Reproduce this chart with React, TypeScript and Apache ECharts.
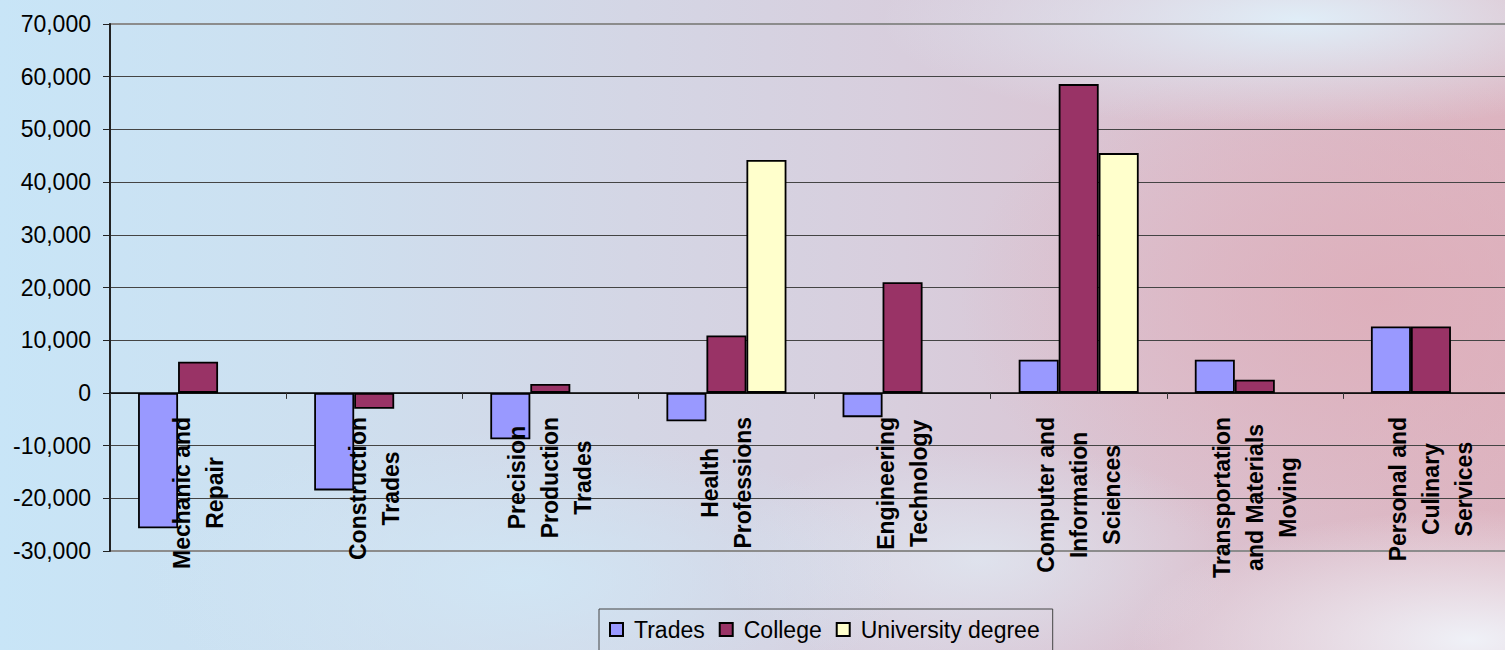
import React, { useEffect, useRef } from "react";
import * as echarts from "echarts";

const categories = [
  "Mechanic and\nRepair",
  "Construction\nTrades",
  "Precision\nProduction\nTrades",
  "Health\nProfessions",
  "Engineering\nTechnology",
  "Computer and\nInformation\nSciences",
  "Transportation\nand Materials\nMoving",
  "Personal and\nCulinary\nServices",
];
const trades = [-25700, -18500, -8800, -5400, -4600, 6300, 6300, 12600];
const college = [5900, -3000, 1700, 10900, 21000, 58600, 2500, 12600];
const university: (number | string)[] = ["-", "-", "-", 44200, "-", 45500, "-", "-"];
const seriesNames = ["Trades", "College", "University degree"];
const seriesColors = ["#9999FF", "#993366", "#FFFFCC"];
const Y_MIN = -30000;
const Y_MAX = 70000;
const Y_STEP = 10000;

const FONT = "'Liberation Sans', Arial, sans-serif";

const bg = [
  "radial-gradient(ellipse 420px 110px at 1300px 20px, rgba(224,240,250,0.95), rgba(224,240,250,0) 100%)",
  "radial-gradient(ellipse 340px 130px at 1470px 640px, rgba(240,244,250,0.95), rgba(240,244,250,0) 100%)",
  "radial-gradient(ellipse 380px 150px at 520px 580px, rgba(208,231,246,0.85), rgba(208,231,246,0) 100%)",
  "radial-gradient(ellipse 260px 120px at 980px 560px, rgba(225,236,245,0.7), rgba(225,236,245,0) 100%)",
  "radial-gradient(ellipse 420px 260px at 1380px 300px, rgba(222,172,184,0.75), rgba(222,172,184,0) 100%)",
  "linear-gradient(90deg, #c8e5f7 0%, #cde0f0 20%, #d4d6e5 42%, #d8cedd 60%, #dbc2d0 78%, #ddb6c2 100%)",
].join(",");

export default function App() {
  const ref = useRef<HTMLDivElement>(null);
  useEffect(() => {
    if (!ref.current) return;
    const chart = echarts.init(ref.current, null, { renderer: "svg" });
    const gridH = 527;
    const zeroOffset = -(gridH * (0 - Y_MIN)) / (Y_MAX - Y_MIN);
    const mk = (name: string, data: any[], color: string) => ({
      name,
      type: "bar",
      data,
      barWidth: 40,
      barGap: "0%",
      itemStyle: { color, borderColor: "#000", borderWidth: 1.8 },
    });
    const splitColors = ["transparent", "#444", "#444", "#444", "#444", "#444", "#444", "#444", "#444", "#444", "transparent"];
    chart.setOption({
      animation: false,
      backgroundColor: "transparent",
      textStyle: { fontFamily: FONT },
      grid: {
        left: 110,
        top: 24,
        width: 1409,
        height: gridH,
        outerBoundsMode: "none",
        containLabel: false,
        show: true,
        borderColor: "#8c8c8c",
        borderWidth: 2,
        backgroundColor: "transparent",
      },
      legend: {
        left: 599,
        top: 609,
        padding: [9, 13, 20, 10],
        itemWidth: 13,
        itemHeight: 13,
        itemGap: 14,
        borderColor: "#444",
        borderWidth: 1,
        icon: "rect",
        textStyle: { fontSize: 23, color: "#000", fontFamily: FONT, padding: [0, 0, 0, 6] },
        data: seriesNames,
      },
      xAxis: {
        type: "category",
        data: categories,
        position: "bottom",
        offset: zeroOffset,
        z: 10,
        axisLine: { show: true, onZero: false, lineStyle: { color: "#000", width: 1.5 } },
        axisTick: { show: true, length: 6, inside: false, lineStyle: { color: "#333", width: 1 } },
        axisLabel: {
          interval: 0,
          rotate: 90,
          margin: 24,
          formatter: (v: string) => v.split("\n").map((l) => `{c|${l}}`).join("\n"),
          rich: {
            c: {
              align: "center",
              fontWeight: "bold",
              fontSize: 23,
              lineHeight: 33,
              fontFamily: FONT,
              color: "#000",
            },
          },
        },
        splitLine: { show: false },
      },
      yAxis: {
        type: "value",
        min: Y_MIN,
        max: Y_MAX,
        interval: Y_STEP,
        axisLine: { show: true, lineStyle: { color: "#222", width: 2 } },
        axisTick: { show: true, length: 7, lineStyle: { color: "#222" } },
        axisLabel: {
          margin: 19,
          fontSize: 23,
          color: "#000",
          fontFamily: FONT,
          formatter: (v: number) => v.toLocaleString("en-US"),
        },
        splitLine: { show: true, lineStyle: { color: splitColors, width: 1 } },
      },
      series: [
        mk(seriesNames[0], trades, seriesColors[0]),
        mk(seriesNames[1], college, seriesColors[1]),
        mk(seriesNames[2], university, seriesColors[2]),
      ],
    });
    return () => chart.dispose();
  }, []);
  return (
    <div
      style={{ position: "fixed", left: 0, top: 0, width: 1505, height: 650, background: bg, overflow: "hidden" }}
    >
      <div ref={ref} style={{ width: 1505, height: 650 }} />
    </div>
  );
}
